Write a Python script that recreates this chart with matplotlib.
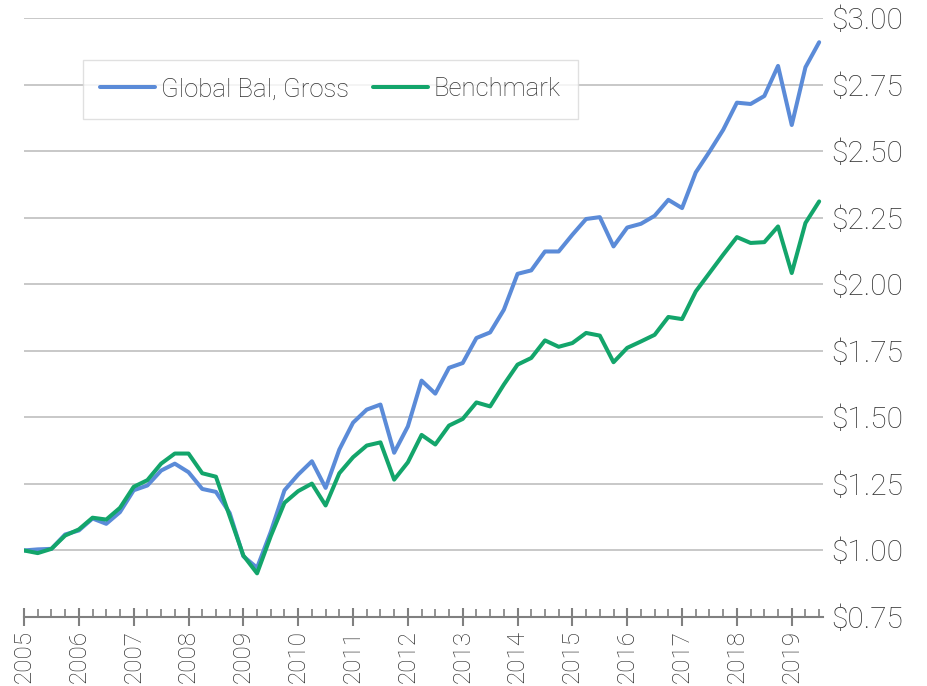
import numpy as np
import matplotlib.pyplot as plt
from matplotlib.ticker import MultipleLocator, FuncFormatter

plt.rcParams['font.family'] = ['Roboto', 'Liberation Sans', 'DejaVu Sans']
plt.rcParams['font.weight'] = 'light'

# quarterly points, 2005 Q1 .. 2019 Q3
quarters = np.arange(59) / 4 + 2005

gross = [1.00, 1.004, 1.006, 1.06, 1.075, 1.12, 1.10, 1.144, 1.226, 1.244,
         1.30, 1.326, 1.294, 1.231, 1.22, 1.141, 0.978, 0.935, 1.07, 1.226,
         1.285, 1.335, 1.235, 1.379, 1.48, 1.529, 1.548, 1.367, 1.466, 1.638,
         1.589, 1.686, 1.704, 1.798, 1.819, 1.904, 2.039, 2.052, 2.123, 2.123,
         2.186, 2.245, 2.252, 2.142, 2.213, 2.227, 2.257, 2.317, 2.286, 2.42,
         2.498, 2.58, 2.682, 2.677, 2.707, 2.82, 2.598, 2.815, 2.909]

benchmark = [1.00, 0.99, 1.006, 1.056, 1.079, 1.123, 1.116, 1.16, 1.239, 1.264,
             1.326, 1.364, 1.364, 1.29, 1.277, 1.129, 0.981, 0.914, 1.054, 1.179,
             1.223, 1.251, 1.169, 1.29, 1.35, 1.394, 1.406, 1.266, 1.331, 1.434,
             1.398, 1.469, 1.494, 1.556, 1.541, 1.623, 1.698, 1.723, 1.789, 1.765,
             1.779, 1.817, 1.807, 1.707, 1.761, 1.785, 1.81, 1.877, 1.869, 1.973,
             2.042, 2.111, 2.177, 2.155, 2.158, 2.217, 2.042, 2.23, 2.311]

years = list(range(2005, 2020))

text_col = '#333333'
fig = plt.figure(figsize=(9.28, 6.86), dpi=100)
ax = fig.add_axes([24/928, 1 - 617/686, (823 - 24)/928, (617 - 18)/686])

ax.plot(quarters, gross, color='#5b8bd8', lw=2.9, label='Global Bal, Gross', solid_capstyle='round')
ax.plot(quarters, benchmark, color='#13a56b', lw=2.9, label='Benchmark', solid_capstyle='round')

##########################################################################################
ax.set_xlim(2005, 2019.57)
ax.set_ylim(0.75, 3.0)
ax.set_yticks(np.arange(0.75, 3.01, 0.25))
ax.yaxis.set_major_formatter(FuncFormatter(lambda v, p: f'${v:.2f}'))
ax.yaxis.tick_right()
ax.tick_params(axis='y', length=0, pad=6, labelsize=21.5, labelcolor=text_col)
ax.grid(axis='y', color='#bfbfbf', lw=1.2)
ax.set_axisbelow(True)

ax.set_xticks(years)
ax.set_xticklabels([str(y) for y in years], rotation=90)
ax.xaxis.set_minor_locator(MultipleLocator(0.25))
ax.tick_params(axis='x', which='major', direction='inout', length=13, width=1.5,
               color='#808080', pad=3, labelsize=17.5, labelcolor=text_col)
ax.tick_params(axis='x', which='minor', direction='in', length=6, width=1.2, color='#808080')

for s in ['left', 'right', 'top']:
    ax.spines[s].set_visible(False)
ax.spines['bottom'].set_color('#808080')
ax.spines['bottom'].set_linewidth(1.5)

leg = ax.legend(loc='upper left', bbox_to_anchor=(82.7/928, 1 - 60/686),
                bbox_transform=fig.transFigure, ncol=2, fontsize=18.5,
                frameon=True, fancybox=False, borderaxespad=0, borderpad=0.68,
                handlelength=2.15, handletextpad=0.2, columnspacing=0.95)
leg.get_frame().set_edgecolor('#d9d9d9')
leg.get_frame().set_linewidth(1.0)
for t in leg.get_texts():
    t.set_color(text_col)

fig.savefig('out.png', dpi=100)
